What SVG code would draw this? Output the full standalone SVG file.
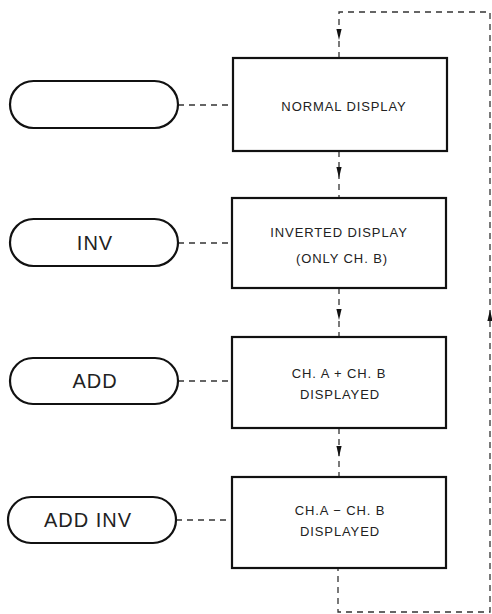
<svg xmlns="http://www.w3.org/2000/svg" xmlns:xlink="http://www.w3.org/1999/xlink" width="492" height="614" viewBox="0 0 492 614">
<style>
.box{fill:#fff;stroke:#111;stroke-width:2.2}
.pill{fill:#fff;stroke:#111;stroke-width:2.2}
.dash{fill:none;stroke:#333;stroke-width:1.3;stroke-dasharray:6 5}
.t{font-family:"Liberation Sans",Arial,sans-serif;font-size:13px;letter-spacing:0.9px;fill:#222;text-anchor:middle}
.p{font-family:"Liberation Sans",Arial,sans-serif;font-size:20px;letter-spacing:1px;fill:#222;text-anchor:middle}
.ah{fill:#111}
</style>
<defs>
<path id="down" d="M-2.6,-6 L2.6,-6 L0,5 Z"/>
</defs>
<rect width="492" height="614" fill="#fff"/>
<g id="connectors">
<path class="dash" d="M339,58 V12 H490 V612 H338 V568"/>
<path class="dash" d="M339,151 V198"/>
<path class="dash" d="M339,288 V337"/>
<path class="dash" d="M339,428 V477"/>
<path class="dash" d="M178,105 H232"/>
<path class="dash" d="M178,243 H232"/>
<path class="dash" d="M178,381 H232"/>
<path class="dash" d="M176,520 H232"/>
<use xlink:href="#down" class="ah" x="339" y="35"/>
<use xlink:href="#down" class="ah" x="339" y="173"/>
<use xlink:href="#down" class="ah" x="339" y="315"/>
<use xlink:href="#down" class="ah" x="339" y="452"/>
<use xlink:href="#down" class="ah" transform="translate(490,315) rotate(180)"/>
</g>
<g id="key1"><rect class="pill" x="10" y="81" width="168" height="47" rx="23.5"/></g>
<g id="key2"><rect class="pill" x="10" y="219" width="168" height="47" rx="23.5"/><text class="p" x="95" y="250">INV</text></g>
<g id="key3"><rect class="pill" x="10" y="358" width="168" height="46" rx="23"/><text class="p" x="95" y="388">ADD</text></g>
<g id="key4"><rect class="pill" x="8" y="497" width="168" height="46" rx="23"/><text class="p" x="88" y="527">ADD INV</text></g>
<g id="box1"><rect class="box" x="233" y="58" width="214" height="93"/><text class="t" x="344" y="111">NORMAL DISPLAY</text></g>
<g id="box2"><rect class="box" x="232" y="198" width="214" height="90"/><text class="t" x="339" y="237">INVERTED DISPLAY</text><text class="t" x="342" y="263">(ONLY CH. B)</text></g>
<g id="box3"><rect class="box" x="232" y="337" width="214" height="91"/><text class="t" x="339" y="378">CH. A + CH. B</text><text class="t" x="340" y="399">DISPLAYED</text></g>
<g id="box4"><rect class="box" x="232" y="477" width="214" height="91"/><text class="t" x="340" y="515">CH.A − CH. B</text><text class="t" x="340" y="536">DISPLAYED</text></g>
</svg>
